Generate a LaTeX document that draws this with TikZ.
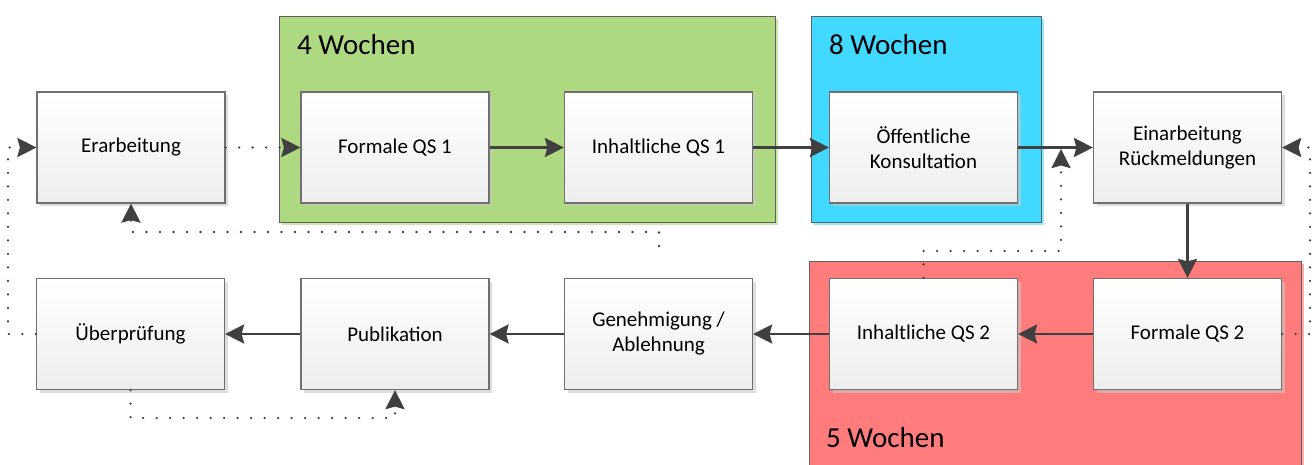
\documentclass[tikz,border=0pt]{standalone}
\usepackage{fontspec}
\setmainfont{Carlito}
\usetikzlibrary{arrows.meta,shadows}
\definecolor{cline}{HTML}{404040}
\definecolor{boxborder}{HTML}{707070}
\definecolor{grpborder}{HTML}{606060}
\definecolor{grpgreen}{HTML}{AED980}
\definecolor{grpgreenS}{HTML}{C8E8A8}
\definecolor{grpblue}{HTML}{41D9FF}
\definecolor{grpblueS}{HTML}{90E9FF}
\definecolor{grpred}{HTML}{FF7C7C}
\definecolor{grpredS}{HTML}{FFAAAA}
\begin{document}
\begin{tikzpicture}[x=1pt,y=-1pt,
  stepbox/.style={draw=boxborder, line width=1.2pt, top color=white, bottom color=black!7,
    minimum width=188pt, minimum height=111pt, align=center, inner sep=0pt,
    font=\fontsize{21}{25}\selectfont,
    drop shadow={shadow xshift=3pt, shadow yshift=-3pt, fill=black!22, opacity=.6}},
  grplabel/.style={anchor=west, inner sep=0pt, font=\fontsize{29}{34}\selectfont},
  tipA/.tip={Stealth[length=19pt,width=19pt,inset=2.5pt]},
  flow/.style={draw=cline, line width=2.6pt, -tipA},
  loopline/.style={draw=cline, line width=2.6pt, line cap=round, dash pattern=on 0pt off 13.5pt,
    -tipA}]
\path[use as bounding box, clip] (0,0) rectangle (1316,464);
\fill[white] (0,0) rectangle (1316,464);
% groups
\fill[grpgreenS] (282,19) rectangle (778,225);
\draw[grpborder, fill=grpgreen, line width=1pt] (279,16) rectangle (775,222);
\fill[grpblueS] (814,19) rectangle (1044,225);
\draw[grpborder, fill=grpblue, line width=1pt] (811,16) rectangle (1041,222);
\fill[grpredS] (812,264) rectangle (1304,480);
\draw[grpborder, fill=grpred, line width=1pt] (809,261) rectangle (1301,480);
\node[grplabel] (g1) at (297,45) {4 Wochen};
\node[grplabel] (g2) at (829,45) {8 Wochen};
\node[grplabel] (g3) at (826,438) {5 Wochen};
% boxes
\node[stepbox] (erarb) at (131,147.5) {Erarbeitung};
\node[stepbox] (fqs1) at (395,147.5) {Formale QS 1};
\node[stepbox] (iqs1) at (658.5,147.5) {Inhaltliche QS 1};
\node[stepbox] (oeff) at (923.5,147.5) {Öffentliche\\Konsultation};
\node[stepbox] (einarb) at (1187.5,147.5) {Einarbeitung\\Rückmeldungen};
\node[stepbox] (uebe) at (130.5,334) {Überprüfung};
\node[stepbox] (publ) at (395,334) {Publikation};
\node[stepbox] (geneh) at (658.5,334) {Genehmigung /\\Ablehnung};
\node[stepbox] (iqs2) at (923.5,334) {Inhaltliche QS 2};
\node[stepbox] (fqs2) at (1187.5,334) {Formale QS 2};
% solid flow
\draw[flow] (fqs1.east) -- (iqs1.west);
\draw[flow] (iqs1.east) -- (oeff.west);
\draw[flow] (oeff.east) -- (einarb.west);
\draw[flow] (einarb.south) -- (fqs2.north);
\draw[flow] (fqs2.west) -- (iqs2.east);
\draw[flow] (iqs2.west) -- (geneh.east);
\draw[flow] (geneh.west) -- (publ.east);
\draw[flow] (publ.west) -- (uebe.east);
% dotted loops
\coordinate (c1) at (659,246);
\coordinate (c2) at (1061,149);
\draw[loopline] (erarb.east) -- (fqs1.west);
\draw[loopline] (c1) -- (659,232) -| (erarb.south);
\draw[loopline] (iqs2.north) -- (923.5,251) -| (c2);
\draw[loopline] (fqs2.east) -- (1310,334) |- (einarb.east);
\draw[loopline] (uebe.west) -- (8,334) |- (erarb.west);
\draw[loopline] (uebe.south) -- (130.5,418) -| (publ.south);
\end{tikzpicture}
\end{document}
